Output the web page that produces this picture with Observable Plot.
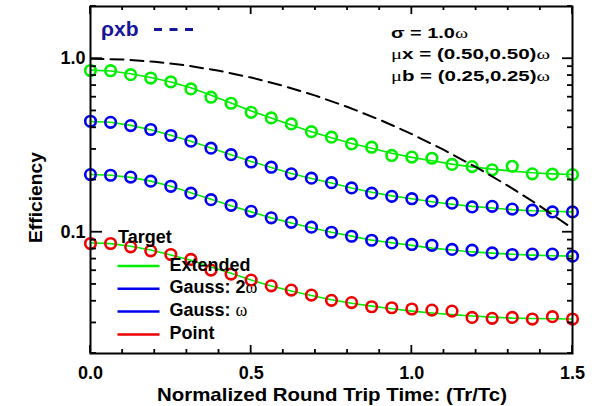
<!DOCTYPE html>
<html><head><meta charset="utf-8">
<script src="https://cdn.jsdelivr.net/npm/d3@7"></script>
<script src="https://cdn.jsdelivr.net/npm/@observablehq/plot@0.6"></script>
<style>html,body{margin:0;background:#fff;overflow:hidden} #chart svg{display:block}</style>
</head><body><div id="chart"></div>
<script>
// ---- data ----
const times = [0, 0.0625, 0.125, 0.1875, 0.25, 0.3125, 0.375, 0.4375, 0.5, 0.5625, 0.625, 0.6875, 0.75,
  0.8125, 0.875, 0.9375, 1.0, 1.0625, 1.125, 1.1875, 1.25, 1.3125, 1.375, 1.4375, 1.5];
const seriesNames = ["Extended", "Gauss: 2ω", "Gauss: ω", "Point"];
const seriesColors = ["#00ee00", "#0000ee", "#0000ee", "#ee0000"];
const extended = [0.855, 0.853, 0.809, 0.774, 0.735, 0.670, 0.600, 0.554, 0.491, 0.456, 0.421, 0.380, 0.353,
  0.323, 0.309, 0.277, 0.271, 0.267, 0.246, 0.239, 0.229, 0.240, 0.217, 0.216, 0.215];
const gauss2w = [0.436, 0.430, 0.412, 0.391, 0.361, 0.335, 0.305, 0.280, 0.254, 0.237, 0.217, 0.205, 0.193,
  0.180, 0.168, 0.161, 0.156, 0.151, 0.147, 0.140, 0.141, 0.136, 0.134, 0.131, 0.131];
const gaussw = [0.215, 0.213, 0.208, 0.197, 0.184, 0.168, 0.154, 0.143, 0.132, 0.121, 0.114, 0.107, 0.100,
  0.0948, 0.0899, 0.0868, 0.0850, 0.0841, 0.0796, 0.0788, 0.0760, 0.0744, 0.0748, 0.0748, 0.0728];
const point = [0.0861, 0.0861, 0.0824, 0.0781, 0.0744, 0.0697, 0.0605, 0.0574, 0.0530, 0.0491, 0.0464, 0.0434, 0.0405,
  0.0393, 0.0372, 0.0367, 0.0361, 0.0356, 0.0351, 0.0323, 0.0319, 0.0323, 0.0316, 0.0326, 0.0316];
// fitted (green) curves
const extendedFit = [0.86, 0.85, 0.82, 0.78, 0.735, 0.68, 0.615, 0.555, 0.50, 0.455, 0.415, 0.38, 0.35,
  0.325, 0.305, 0.285, 0.27, 0.258, 0.247, 0.238, 0.231, 0.225, 0.22, 0.217, 0.215];
const gauss2wFit = [0.435, 0.43, 0.413, 0.39, 0.362, 0.334, 0.306, 0.28, 0.256, 0.236, 0.218, 0.204, 0.192,
  0.18, 0.17, 0.162, 0.156, 0.15, 0.145, 0.141, 0.138, 0.135, 0.133, 0.132, 0.131];
const gausswFit = [0.215, 0.213, 0.207, 0.197, 0.184, 0.169, 0.155, 0.142, 0.131, 0.121, 0.113, 0.106, 0.100,
  0.095, 0.090, 0.087, 0.084, 0.081, 0.079, 0.077, 0.0758, 0.0747, 0.0738, 0.0732, 0.0728];
const pointFit = [0.087, 0.086, 0.083, 0.079, 0.074, 0.069, 0.063, 0.058, 0.053, 0.049, 0.0458, 0.0432, 0.0408,
  0.039, 0.0375, 0.0362, 0.0351, 0.0342, 0.0335, 0.0329, 0.0324, 0.032, 0.0318, 0.0317, 0.0316];
// rho_xb dashed curve
const rhoT = [0, 0.1, 0.2, 0.3, 0.4, 0.5, 0.6, 0.7, 0.8, 0.9, 1.0, 1.1, 1.2, 1.3, 1.4, 1.5];
const rhoV = [1.0, 0.99, 0.961, 0.914, 0.852, 0.779, 0.698, 0.613, 0.527, 0.445, 0.368, 0.298, 0.237, 0.185, 0.141, 0.105];
// axis ticks
const xMajor = [0, 0.5, 1.0, 1.5];
const xMinor = [0.1, 0.2, 0.3, 0.4, 0.6, 0.7, 0.8, 0.9, 1.1, 1.2, 1.3, 1.4];
const yMajor = [0.1, 1.0];
const yMinor = [0.02, 0.03, 0.04, 0.05, 0.06, 0.07, 0.08, 0.09, 0.2, 0.3, 0.4, 0.5, 0.6, 0.7, 0.8, 0.9, 2.0];
const annotation = ["σ = 1.0ω", "μx = (0.50,0.50)ω", "μb = (0.25,0.25)ω"];
const legendTitle = "Target";
const xTitle = "Normalized Round Trip Time: (Tr/Tc)";
const yTitle = "Efficiency";
const rhoLabel = "ρxb";

// ---- tables ----
const allVals = [extended, gauss2w, gaussw, point];
const allFits = [extendedFit, gauss2wFit, gausswFit, pointFit];
const pts = [], fits = [];
seriesNames.forEach((s, k) => times.forEach((t, i) => {
  pts.push({series: s, t, v: allVals[k][i]});
  fits.push({series: s, t, v: allFits[k][i]});
}));
const rho = rhoT.map((t, i) => ({t, v: rhoV[i]}));

const FONT = "'Liberation Sans', Arial, Helvetica, sans-serif";
const ML = 90, MR = 23, MT = 6, MB = 53, W = 595, H = 406;

const chart = Plot.plot({
  width: W, height: H,
  marginLeft: ML, marginRight: MR, marginTop: MT, marginBottom: MB,
  style: {fontFamily: FONT, fontWeight: "bold", background: "white", color: "black", maxWidth: "none"},
  x: {domain: [0, 1.5]},
  y: {type: "log", domain: [0.02, 2]},
  color: {domain: seriesNames, range: seriesColors},
  marks: [
    Plot.line(fits, {x: "t", y: "v", z: "series", stroke: "#00ee00", strokeWidth: 1.6}),
    Plot.dot(pts, {x: "t", y: "v", stroke: "series", r: 5.3, strokeWidth: 2.6, fill: "none"}),
    Plot.line(rho, {x: "t", y: "v", stroke: "black", strokeWidth: 2, strokeDasharray: "13,7", clip: true}),
    Plot.axisX(xMajor, {anchor: "bottom", tickSize: 0, tickPadding: 13, tickFormat: d => d.toFixed(1), fontSize: 18, label: null}),
    Plot.axisY(yMajor, {anchor: "left", tickSize: 0, tickPadding: 5, tickFormat: d => d.toFixed(1), fontSize: 18, label: null}),
    Plot.frame({stroke: "black", strokeWidth: 2})
  ]
});
document.getElementById("chart").append(chart);

const svg = d3.select(chart);
const sx = chart.scale("x"), sy = chart.scale("y");
const x0 = ML, x1 = W - MR, y0 = MT, y1 = H - MB;

// ---- inward tick marks, positioned through the plot's own scales ----
const tg = svg.append("g").attr("stroke", "black").attr("stroke-width", 1.8).attr("fill", "none");
const tickSets = [
  [xMajor, 8, "x"], [xMinor, 4, "x"], [yMajor, 12, "yl"], [yMinor, 6, "yl"], [yMajor, 10, "yr"], [yMinor, 5, "yr"]
];
tickSets.forEach(([vals, len, kind]) => vals.forEach(v => {
  if (kind === "x") {
    const px = sx.apply(v);
    tg.append("line").attr("x1", px).attr("x2", px).attr("y1", y1).attr("y2", y1 - len);
    tg.append("line").attr("x1", px).attr("x2", px).attr("y1", y0).attr("y2", y0 + len);
  } else {
    const py = sy.apply(v);
    const xs = kind === "yl" ? [x0, x0 + len] : [x1, x1 - len];
    tg.append("line").attr("x1", xs[0]).attr("x2", xs[1]).attr("y1", py).attr("y2", py);
  }
}));

// ---- overlay texts ----
const greekLight = /[μω]/;
function rich(sel, str) {
  let buf = "", light = null;
  const flush = () => { if (buf) { const ts = sel.append("tspan").text(buf); if (light) ts.attr("font-weight", "normal").attr("font-family", "'Liberation Serif', serif"); } buf = ""; };
  for (const ch of str) {
    const l = greekLight.test(ch);
    if (light !== null && l !== light) flush();
    light = l; buf += ch;
  }
  flush();
  return sel;
}
const g = svg.append("g").attr("font-family", FONT).attr("font-weight", "bold").attr("fill", "black").attr("text-anchor", "start");
// axis titles
g.append("text").attr("x", 157).attr("y", H - 5).attr("font-size", 19)
  .attr("textLength", 350).attr("lengthAdjust", "spacingAndGlyphs").text(xTitle);
g.append("text").attr("transform", `translate(42,243) rotate(-90)`).attr("font-size", 19)
  .attr("textLength", 91).attr("lengthAdjust", "spacingAndGlyphs").text(yTitle);
// rho label
const navy = "#16169a";
g.append("text").attr("x", 101).attr("y", 36).attr("font-size", 21).attr("fill", navy).text(rhoLabel);
g.append("line").attr("x1", 154).attr("x2", 193).attr("y1", 29.5).attr("y2", 29.5)
  .attr("stroke", navy).attr("stroke-width", 3).attr("stroke-dasharray", "8,7.5");
// annotation
const annW = [77, 159, 159];
annotation.forEach((s, i) => rich(g.append("text").attr("x", 391).attr("y", 37.5 + i * 21.7).attr("font-size", 15)
  .attr("textLength", annW[i]).attr("lengthAdjust", "spacingAndGlyphs"), s));
// legend
const lx = 117.5;
g.append("text").attr("x", 118).attr("y", 242.7).attr("font-size", 18).text(legendTitle);
seriesNames.forEach((s, i) => {
  const y = 266 + i * 22.8;
  g.append("line").attr("x1", lx).attr("x2", lx + 42).attr("y1", y).attr("y2", y)
    .attr("stroke", i === 0 ? "#00ee00" : seriesColors[i]).attr("stroke-width", 2.5);
  rich(g.append("text").attr("x", 169.5).attr("y", y + 4.6).attr("font-size", 18), s);
});
</script>
</body></html>
